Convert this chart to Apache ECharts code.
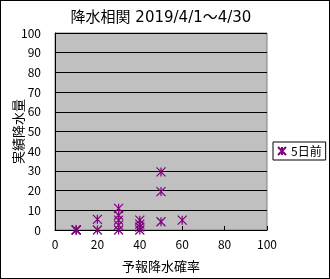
<!DOCTYPE html>
<html><head><meta charset="utf-8">
<script src="https://cdn.jsdelivr.net/npm/echarts@6/dist/echarts.min.js"></script>
<style>html,body{margin:0;padding:0;background:#fff}#c{width:330px;height:279px;box-sizing:border-box;border:1px solid #000}</style>
</head><body><div id="c"></div>
<script>
const titleText = '降水相関 2019/4/1～4/30';
const xName = '予報降水確率';
const yName = '実績降水量';
const seriesName = '5日前';
const forecastProb = [10, 10, 10, 20, 20, 30, 30, 30, 30, 30, 40, 40, 40, 40, 50, 50, 50, 60];
const actualRain   = [0, 0, 0, 0, 5.4, 0, 2.5, 5, 7.5, 11, 0, 1.5, 3, 5, 4.2, 19.5, 29.5, 5];
const F = '"Noto Sans CJK JP", sans-serif';
const FT = '"DejaVu Sans", "Noto Sans CJK JP", sans-serif';
const star = 'path://M0,0L10,10M10,0L0,10M5,0L5,10';
const chart = echarts.init(document.getElementById('c'));
chart.setOption({
  animation: false,
  backgroundColor: '#fff',
  title: { text: titleText, left: 155, top: 5, textAlign: 'center',
    textStyle: { fontFamily: FT, fontSize: 15, fontWeight: 'normal', color: '#000' } },
  grid: { left: 54, top: 32, right: 62, bottom: 48, containLabel: false, outerBoundsMode: 'none',
    backgroundColor: '#c0c0c0', show: true, borderColor: '#808080', borderWidth: 1 },
  legend: { data: [seriesName], left: 272, top: 141, orient: 'vertical', padding: [3, 4], itemGap: 0,
    borderColor: '#000', borderWidth: 1, backgroundColor: '#fff', itemWidth: 8, itemHeight: 8,
    textStyle: { fontFamily: F, fontSize: 12, color: '#000' } },
  xAxis: { type: 'value', min: 0, max: 100, interval: 20, name: xName, nameLocation: 'middle', nameGap: 30,
    nameMoveOverlap: false,
    nameTextStyle: { fontFamily: F, fontSize: 13, color: '#000' },
    axisLine: { lineStyle: { color: '#000' } },
    axisTick: { inside: true, length: 4, lineStyle: { color: '#000' } },
    axisLabel: { fontFamily: F, fontSize: 12, color: '#000', margin: 8 },
    splitLine: { show: false } },
  yAxis: { type: 'value', min: 0, max: 100, interval: 10, name: yName, nameLocation: 'middle', nameGap: 30, nameRotate: 90,
    nameMoveOverlap: false,
    nameTextStyle: { fontFamily: F, fontSize: 13, color: '#000' },
    axisLine: { show: true, lineStyle: { color: '#000' } },
    axisTick: { show: false },
    axisLabel: { fontFamily: F, fontSize: 12, color: '#000', margin: 14 },
    splitLine: { lineStyle: { color: '#000', width: 1 } } },
  series: [{ name: seriesName, type: 'scatter', symbol: star, symbolSize: 9,
    itemStyle: { color: 'rgba(0,0,0,0)', borderColor: '#800080', borderWidth: 1.2, opacity: 1 },
    data: forecastProb.map((x, i) => [x, actualRain[i]]) }]
});
</script></body></html>
